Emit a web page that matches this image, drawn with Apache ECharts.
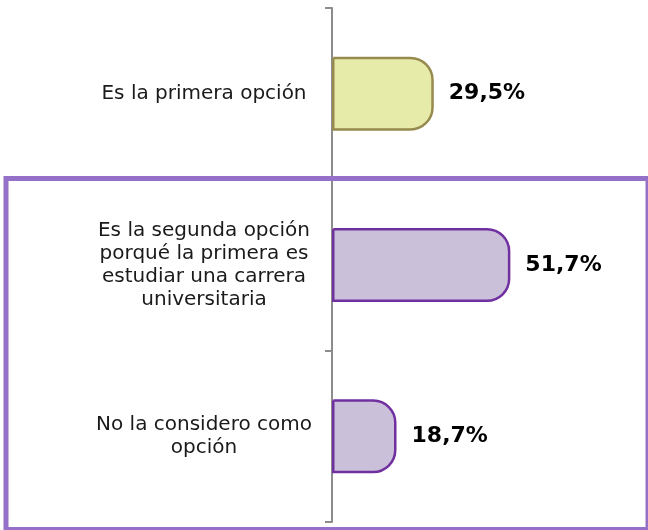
<!DOCTYPE html>
<html>
<head>
<meta charset="utf-8">
<script src="https://cdn.jsdelivr.net/npm/echarts@6/dist/echarts.min.js"></script>
<style>
  html, body { margin: 0; padding: 0; background: #fff; }
  #chart { width: 648px; height: 530px; }
</style>
</head>
<body>
<div id="chart"></div>
<script>
// datos
const categorias = [
  "Es la primera opción",
  "Es la segunda opción\nporqué la primera es\nestudiar una carrera\nuniversitaria",
  "No la considero como\nopción"
];
const valores = [29.5, 51.7, 18.7];
const rellenos = ["#e6ebaa", "#cbc0da", "#cbc0da"];
const bordes = ["#968a4e", "#7030a0", "#7030a0"];

let myCharts = echarts.init(document.getElementById("chart"));

let option = {
  animation: false,
  grid: { left: 332, right: 40, top: 8, bottom: 8 },
  xAxis: {
    type: "value",
    min: 0,
    max: 80,
    show: false
  },
  yAxis: {
    type: "category",
    inverse: true,
    data: categorias,
    axisLine: { lineStyle: { color: "#8c8c8c", width: 2 } },
    axisTick: { show: true, length: 7, lineStyle: { color: "#8c8c8c", width: 2 } },
    axisLabel: {
      align: "center",
      margin: 128,
      fontFamily: "DejaVu Sans",
      fontSize: 20,
      lineHeight: 23,
      color: "#1a1a1a"
    }
  },
  series: [{
    type: "bar",
    barWidth: 74,
    data: valores.map((v, i) => ({
      value: v,
      itemStyle: { color: rellenos[i], borderColor: bordes[i] }
    })),
    itemStyle: { borderWidth: 2.5, borderRadius: [0, 22, 22, 0] },
    label: {
      show: true,
      position: "right",
      distance: 15,
      formatter: p => p.value.toFixed(1).replace(".", ",") + "%",
      fontFamily: "DejaVu Sans",
      fontWeight: "bold",
      fontSize: 22,
      color: "#000"
    }
  }],
  graphic: [{
    type: "rect",
    shape: { x: 6, y: 178.5, width: 642, height: 351 },
    style: { fill: "none", stroke: "#9570c8", lineWidth: 5 },
    z: 10
  }]
};

myCharts.setOption(option);
</script>
</body>
</html>
